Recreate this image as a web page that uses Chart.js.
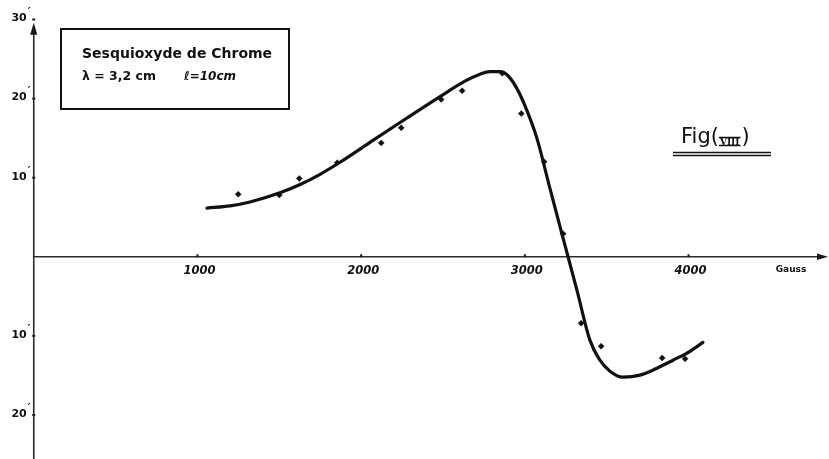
<!DOCTYPE html>
<html>
<head>
<meta charset="utf-8">
<script src="https://cdn.jsdelivr.net/npm/chart.js@4.4.1/dist/chart.umd.min.js"></script>
<style>
  html, body { margin: 0; padding: 0; background: #ffffff; }
  #wrap { width: 829px; height: 459px; position: relative; }
</style>
</head>
<body>
<div id="wrap"><canvas id="c"></canvas></div>
<script>
// Rotation (minutes of arc) of sesquioxyde de chrome against field (gauss)
const measuredGauss    = [1249, 1500, 1622, 1854, 2123, 2245, 2489, 2617, 2862, 2978, 3118, 3234, 3344, 3466, 3839, 3979];
const measuredRotation = [7.9, 7.8, 9.9, 11.9, 14.4, 16.3, 19.9, 21.0, 23.2, 18.1, 12.0, 2.9, -8.4, -11.3, -12.8, -12.9];

// Smoothed curve drawn through the measurements
const curveGauss    = [1058, 1199, 1321, 1504, 1627, 1749, 1871, 2072, 2280, 2482, 2634, 2726, 2787, 2848, 2897, 2952, 3013, 3074, 3153, 3233, 3264, 3319, 3398, 3459, 3520, 3599, 3703, 3807, 3905, 4009, 4088];
const curveRotation = [6.16, 6.43, 6.92, 8.08, 9.13, 10.43, 11.95, 14.72, 17.55, 20.25, 22.2, 23.08, 23.4, 23.4, 22.89, 21.26, 18.49, 14.97, 8.68, 2.39, 0, -4.28, -10.57, -13.08, -14.47, -15.22, -14.97, -14.09, -13.08, -11.95, -10.82];

// Axis ticks
const xTickValues = [1000, 2000, 3000, 4000];
const xTickLabels = ['1000', '2000', '3000', '4000'];
const yTickValues = [30, 20, 10, -10, -20];
const yTickLabels = ['30', '20', '10', '10', '20'];

const xUnitLabel = 'Gauss';
const boxTitle = 'Sesquioxyde de Chrome';
const boxWavelength = '\u03bb = 3,2 cm';
const boxLength = '\u2113=10cm';
const figureTitle = 'Fig';
const figureNumber = 'VIII';

const INK = '#111111';

function toPoints(xs, ys) {
  return xs.map((v, i) => ({ x: v, y: ys[i] }));
}

// Axes through the origin, drawn with arrows and tick dots
const handAxes = {
  id: 'handAxes',
  beforeDatasetsDraw(chart) {
    const { ctx, scales: { x, y } } = chart;
    const x0 = x.getPixelForValue(0);
    const y0 = y.getPixelForValue(0);
    ctx.save();
    ctx.strokeStyle = '#2b2b2b';
    ctx.fillStyle = '#1a1a1a';
    ctx.lineWidth = 1.6;

    // horizontal axis
    const xEnd = chart.width - 1;
    ctx.beginPath();
    ctx.moveTo(x0, y0);
    ctx.lineTo(xEnd - 6, y0);
    ctx.stroke();
    ctx.beginPath();
    ctx.moveTo(xEnd, y0);
    ctx.lineTo(xEnd - 11, y0 - 3.2);
    ctx.lineTo(xEnd - 11, y0 + 3.2);
    ctx.closePath();
    ctx.fill();

    // vertical axis
    const yTop = y.getPixelForValue(29.6);
    ctx.beginPath();
    ctx.moveTo(x0, chart.height);
    ctx.lineTo(x0, yTop + 6);
    ctx.stroke();
    ctx.beginPath();
    ctx.moveTo(x0, yTop);
    ctx.lineTo(x0 - 3.6, yTop + 12);
    ctx.lineTo(x0 + 3.6, yTop + 12);
    ctx.closePath();
    ctx.fill();

    // tick dots
    xTickValues.forEach(v => {
      const px = x.getPixelForValue(v);
      ctx.fillRect(px - 1, y0 - 2.5, 2, 3);
    });
    yTickValues.forEach(v => {
      const py = y.getPixelForValue(v);
      ctx.fillRect(x0 - 1.5, py - 1, 3, 2);
    });
    ctx.restore();
  },
  afterDraw(chart) {
    const { ctx, scales: { x, y } } = chart;
    const x0 = x.getPixelForValue(0);
    const y0 = y.getPixelForValue(0);
    ctx.save();
    ctx.fillStyle = INK;
    ctx.strokeStyle = INK;

    // x tick labels
    ctx.font = 'italic bold 11.5px "DejaVu Sans"';
    ctx.textAlign = 'center';
    ctx.textBaseline = 'middle';
    xTickValues.forEach((v, i) => {
      ctx.fillText(xTickLabels[i], x.getPixelForValue(v) + 2, y0 + 14);
    });
    ctx.font = 'bold 9px "DejaVu Sans"';
    ctx.fillText(xUnitLabel, 791, y0 + 13);

    // y tick labels with a prime mark
    ctx.textAlign = 'right';
    yTickValues.forEach((v, i) => {
      const py = y.getPixelForValue(v);
      ctx.font = 'bold 11px "DejaVu Sans"';
      ctx.fillText(yTickLabels[i], x0 - 7, py - 1);
      ctx.font = 'bold 11px "DejaVu Sans"';
      ctx.fillText('\u2032', x0 - 3, py - 7);
    });

    // legend box
    ctx.lineWidth = 2;
    ctx.strokeRect(61, 29, 228, 80);
    ctx.textAlign = 'left';
    ctx.textBaseline = 'alphabetic';
    ctx.font = 'bold 14px "DejaVu Sans"';
    ctx.fillText(boxTitle, 82, 58);
    ctx.font = 'bold 12.5px "DejaVu Sans"';
    ctx.fillText(boxWavelength, 82, 80);
    ctx.font = 'italic bold 12px "DejaVu Sans"';
    ctx.fillText(boxLength, 184, 80);

    // figure label
    ctx.font = '21px "DejaVu Sans"';
    ctx.fillText(figureTitle, 681, 143);
    const afterFig = 681 + ctx.measureText(figureTitle).width;
    ctx.fillText('(', afterFig, 143);
    const numStart = afterFig + ctx.measureText('(').width + 1;
    ctx.font = 'bold 9px "DejaVu Serif"';
    ctx.fillText(figureNumber, numStart, 145);
    const numW = ctx.measureText(figureNumber).width;
    ctx.lineWidth = 1.5;
    ctx.beginPath();
    ctx.moveTo(numStart - 1, 137.5); ctx.lineTo(numStart + numW + 1, 137.5);
    ctx.moveTo(numStart - 1, 145.5); ctx.lineTo(numStart + numW + 1, 145.5);
    ctx.stroke();
    ctx.font = '21px "DejaVu Sans"';
    ctx.fillText(')', numStart + numW + 2, 143);
    ctx.lineWidth = 1.5;
    ctx.beginPath();
    ctx.moveTo(673, 152.5); ctx.lineTo(771, 152.5);
    ctx.moveTo(673, 155.5); ctx.lineTo(771, 155.5);
    ctx.stroke();
    ctx.restore();
  }
};

new Chart(document.getElementById('c'), {
  type: 'scatter',
  data: {
    datasets: [
      {
        label: 'courbe',
        data: toPoints(curveGauss, curveRotation),
        showLine: true,
        borderColor: INK,
        borderWidth: 3.2,
        pointRadius: 0,
        cubicInterpolationMode: 'monotone',
        borderCapStyle: 'round',
        borderJoinStyle: 'round',
        order: 2
      },
      {
        label: 'mesures',
        data: toPoints(measuredGauss, measuredRotation),
        showLine: false,
        pointStyle: 'rectRot',
        pointRadius: 3,
        backgroundColor: INK,
        borderColor: INK,
        borderWidth: 0.5,
        order: 1
      }
    ]
  },
  options: {
    responsive: true,
    maintainAspectRatio: false,
    devicePixelRatio: 1,
    animation: false,
    layout: { padding: { left: 33.75, right: 4.6, top: 19.5, bottom: 2.25 } },
    plugins: { legend: { display: false }, tooltip: { enabled: false } },
    scales: {
      x: { type: 'linear', min: 0, max: 4830, display: false },
      y: { type: 'linear', min: -25, max: 30, display: false }
    }
  },
  plugins: [handAxes]
});
</script>
</body>
</html>
